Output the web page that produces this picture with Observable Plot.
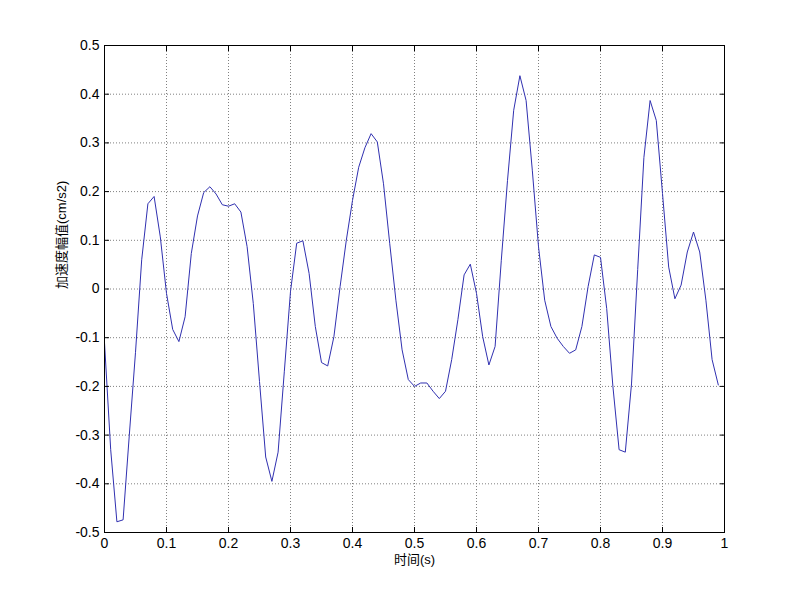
<!DOCTYPE html>
<html><head><meta charset="utf-8">
<script src="https://cdn.jsdelivr.net/npm/d3@7"></script>
<script src="https://cdn.jsdelivr.net/npm/@observablehq/plot@0.6"></script>
<style>body{margin:0;background:#fff} svg{display:block}</style>
</head><body><div id="chart"></div>
<script>
const time = [
  0.00,0.01,0.02,0.03,0.04,0.05,0.06,0.07,0.08,0.09,
  0.10,0.11,0.12,0.13,0.14,0.15,0.16,0.17,0.18,0.19,
  0.20,0.21,0.22,0.23,0.24,0.25,0.26,0.27,0.28,0.29,
  0.30,0.31,0.32,0.33,0.34,0.35,0.36,0.37,0.38,0.39,
  0.40,0.41,0.42,0.43,0.44,0.45,0.46,0.47,0.48,0.49,
  0.50,0.51,0.52,0.53,0.54,0.55,0.56,0.57,0.58,0.59,
  0.60,0.61,0.62,0.63,0.64,0.65,0.66,0.67,0.68,0.69,
  0.70,0.71,0.72,0.73,0.74,0.75,0.76,0.77,0.78,0.79,
  0.80,0.81,0.82,0.83,0.84,0.85,0.86,0.87,0.88,0.89,
  0.90,0.91,0.92,0.93,0.94,0.95,0.96,0.97,0.98,0.99
];
const accel = [
  -0.110,-0.330,-0.478,-0.474,-0.300,-0.130,0.060,0.175,0.190,0.107,
  -0.009,-0.083,-0.108,-0.057,0.073,0.150,0.198,0.210,0.195,0.173,
  0.170,0.175,0.158,0.087,-0.030,-0.190,-0.345,-0.395,-0.335,-0.170,
  -0.005,0.094,0.099,0.032,-0.077,-0.151,-0.158,-0.098,0.005,0.100,
  0.182,0.250,0.290,0.319,0.302,0.216,0.094,-0.023,-0.125,-0.186,
  -0.200,-0.193,-0.193,-0.210,-0.225,-0.210,-0.145,-0.063,0.029,0.051,
  -0.009,-0.098,-0.156,-0.118,0.059,0.223,0.367,0.438,0.387,0.244,
  0.087,-0.023,-0.077,-0.101,-0.118,-0.132,-0.125,-0.077,0.005,0.070,
  0.065,-0.040,-0.200,-0.330,-0.335,-0.195,0.040,0.270,0.387,0.346,
  0.196,0.045,-0.020,0.008,0.076,0.117,0.076,-0.023,-0.145,-0.197
];
const xTicks = [0,0.1,0.2,0.3,0.4,0.5,0.6,0.7,0.8,0.9,1];
const xTickLabels = ["0","0.1","0.2","0.3","0.4","0.5","0.6","0.7","0.8","0.9","1"];
const yTicks = [-0.5,-0.4,-0.3,-0.2,-0.1,0,0.1,0.2,0.3,0.4,0.5];
const yTickLabels = ["-0.5","-0.4","-0.3","-0.2","-0.1","0","0.1","0.2","0.3","0.4","0.5"];
const xLabel = "时间(s)";
const yLabel = "加速度幅值(cm/s2)";

const data = time.map((t, i) => ({t, a: accel[i]}));
const font = "'Liberation Sans', Arial, 'Noto Sans CJK SC', sans-serif";
const gridStyle = {stroke: "#808080", strokeOpacity: 1, strokeDasharray: "1,2", strokeWidth: 1};

const chart = Plot.plot({
  width: 800, height: 599,
  marginLeft: 104, marginRight: 76, marginTop: 45, marginBottom: 67,
  style: {fontFamily: font, fontSize: "14px", background: "#fff", color: "#000", overflow: "visible"},
  x: {domain: [0, 1], label: null},
  y: {domain: [-0.5, 0.5], label: null},
  marks: [
    Plot.gridX(xTicks.slice(1, -1), gridStyle),
    Plot.gridY(yTicks.slice(1, -1), gridStyle),
    Plot.line(data, {x: "t", y: "a", stroke: "#3030b0", strokeWidth: 1}),
    Plot.frame({stroke: "#000", strokeWidth: 1}),
    Plot.axisX(xTicks, {anchor: "bottom", tickSize: -5, text: null}),
    Plot.axisX(xTicks, {anchor: "top", tickSize: -5, text: null}),
    Plot.axisY(yTicks, {anchor: "left", tickSize: -5, text: null}),
    Plot.axisY(yTicks, {anchor: "right", tickSize: -5, text: null}),
    Plot.axisX(xTicks, {anchor: "bottom", tickSize: 0, tickPadding: 6, label: null,
      tickFormat: d => xTickLabels[xTicks.indexOf(d)], fontSize: 14}),
    Plot.axisY(yTicks, {anchor: "left", tickSize: 0, tickPadding: 5, label: null,
      tickFormat: d => yTickLabels[yTicks.indexOf(d)], fontSize: 14}),
    Plot.text([xLabel], {frameAnchor: "bottom", dy: 31, text: d => d, fontSize: 13, fill: "#000"}),
    Plot.text([yLabel], {frameAnchor: "left", dx: -43, rotate: -90, text: d => d, fontSize: 13, fill: "#000"})
  ]
});
document.getElementById("chart").appendChild(chart);
</script>
</body></html>
